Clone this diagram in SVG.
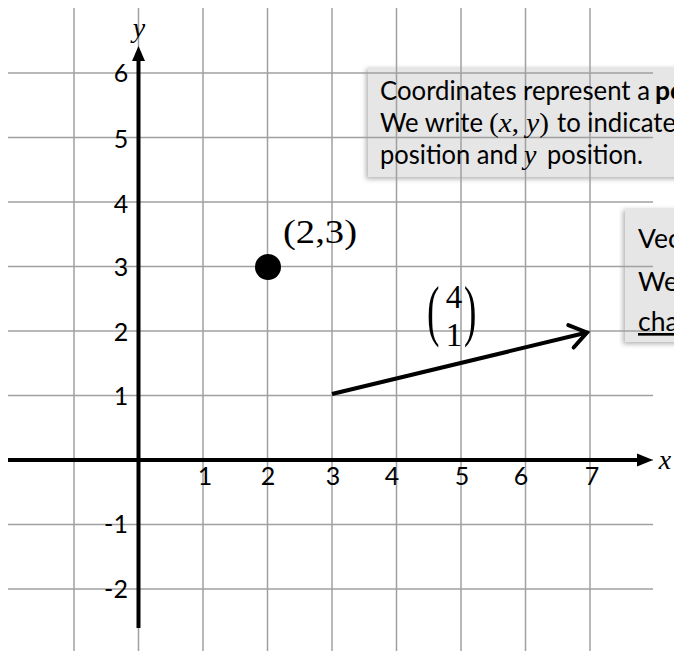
<svg xmlns="http://www.w3.org/2000/svg" width="674" height="651" viewBox="0 0 674 651">
<defs>
<style>
.grid line{stroke:#a0a0a0;stroke-width:1.5}
.axis{stroke:#000;stroke-width:4;fill:none}
.head{fill:#000}
.num{font-family:Lato,"Liberation Sans",sans-serif;font-size:25px;fill:#000;text-anchor:middle}
.math{font-family:"Liberation Serif","DejaVu Serif",serif;fill:#000}
.it{font-style:italic}
.box{fill:#e6e6e6;filter:url(#sh)}
.txt{font-family:Lato,"Liberation Sans",sans-serif;font-size:26.5px;fill:#000}
.vec{stroke:#000;stroke-width:4;fill:none}
</style>
<filter id="sh" x="-10%" y="-10%" width="120%" height="130%">
<feDropShadow dx="-2" dy="2" stdDeviation="2.5" flood-color="#000" flood-opacity="0.3"/>
</filter>
<marker id="open" markerUnits="userSpaceOnUse" markerWidth="30" markerHeight="30" refX="0" refY="0" viewBox="-25 -15 30 30" orient="auto" overflow="visible">
<path d="M-16.5,-11.5 L0,0 L-16.5,11.5" fill="none" stroke="#000" stroke-width="4" stroke-linejoin="miter" stroke-linecap="round"/>
</marker>
</defs>
<rect width="674" height="651" fill="#fff"/>

<g id="box-coordinates">
<rect class="box" x="368" y="67" width="320" height="110"/>
</g>
<g id="box-vectors">
<rect class="box" x="625" y="208" width="60" height="134"/>
</g>

<g id="grid" class="grid">
<line x1="74" y1="8" x2="74" y2="651"/>
<line x1="138.5" y1="8" x2="138.5" y2="651"/>
<line x1="203" y1="8" x2="203" y2="651"/>
<line x1="267.5" y1="8" x2="267.5" y2="651"/>
<line x1="332" y1="8" x2="332" y2="651"/>
<line x1="396.5" y1="8" x2="396.5" y2="651"/>
<line x1="461" y1="8" x2="461" y2="651"/>
<line x1="525.5" y1="8" x2="525.5" y2="651"/>
<line x1="590" y1="8" x2="590" y2="651"/>
<line x1="8" y1="73" x2="653" y2="73"/>
<line x1="8" y1="137.5" x2="653" y2="137.5"/>
<line x1="8" y1="202" x2="653" y2="202"/>
<line x1="8" y1="266.5" x2="653" y2="266.5"/>
<line x1="8" y1="331" x2="653" y2="331"/>
<line x1="8" y1="395.5" x2="653" y2="395.5"/>
<line x1="8" y1="460" x2="653" y2="460"/>
<line x1="8" y1="524.5" x2="653" y2="524.5"/>
<line x1="8" y1="589" x2="653" y2="589"/>
</g>

<g id="axes">
<line class="axis" x1="8" y1="460" x2="640" y2="460"/>
<polygon class="head" points="637,453.5 653,460 637,466.5"/>
<line class="axis" x1="138.5" y1="628" x2="138.5" y2="58"/>
<polygon class="head" points="132,61 138.5,46 145,61"/>
<text class="math it" x="665" y="469" font-size="28" text-anchor="middle">x</text>
<text class="math it" x="139" y="37" font-size="28" text-anchor="middle">y</text>
</g>

<g id="x-ticks">
<text class="num" x="205" y="485">1</text>
<text class="num" x="268" y="485">2</text>
<text class="num" x="333" y="485">3</text>
<text class="num" x="392" y="485">4</text>
<text class="num" x="462" y="485">5</text>
<text class="num" x="521" y="485">6</text>
<text class="num" x="592" y="485">7</text>
</g>
<g id="y-ticks">
<text class="num" x="121" y="82">6</text>
<text class="num" x="121" y="148">5</text>
<text class="num" x="121" y="213">4</text>
<text class="num" x="121" y="276">3</text>
<text class="num" x="121" y="341">2</text>
<text class="num" x="121" y="405">1</text>
<text class="num" x="116" y="533">-1</text>
<text class="num" x="116" y="598">-2</text>
</g>

<g id="point-2-3">
<circle cx="268" cy="267" r="13" fill="#000"/>
<text class="math" x="283" y="243" font-size="33" textLength="74" lengthAdjust="spacingAndGlyphs">(2,3)</text>
</g>

<g id="connectors">
<line class="vec" x1="332" y1="394" x2="587" y2="332.5" marker-end="url(#open)"/>
</g>

<g id="vector-label">
<text class="math" x="0" y="0" font-size="68" transform="translate(427,333) scale(0.55,1)">(</text>
<text class="math" x="454" y="308" font-size="33" text-anchor="middle">4</text>
<text class="math" x="454" y="346" font-size="33" text-anchor="middle">1</text>
<text class="math" x="0" y="0" font-size="68" transform="translate(464,333) scale(0.55,1)">)</text>
</g>

<g id="text-coordinates" class="txt">
<text x="380" y="100" textLength="270" lengthAdjust="spacingAndGlyphs">Coordinates represent a</text>
<text x="655" y="100" font-weight="bold">po</text>
<text x="380" y="131.5" textLength="103" lengthAdjust="spacingAndGlyphs">We write</text>
<text x="489" y="131.5" class="math" font-size="28" textLength="60" lengthAdjust="spacingAndGlyphs">(<tspan class="it">x</tspan>, <tspan class="it">y</tspan>)</text>
<text x="557" y="131.5" textLength="119" lengthAdjust="spacingAndGlyphs">to indicate</text>
<text x="380" y="164" textLength="138" lengthAdjust="spacingAndGlyphs">position and</text>
<text x="524" y="164" class="math it" font-size="28">y</text>
<text x="547" y="164" textLength="96" lengthAdjust="spacingAndGlyphs">position.</text>
</g>

<g id="text-vectors" class="txt">
<text x="638" y="248">Vec</text>
<text x="638" y="291">We</text>
<text x="638" y="331" text-decoration="underline">cha</text>
</g>
</svg>
